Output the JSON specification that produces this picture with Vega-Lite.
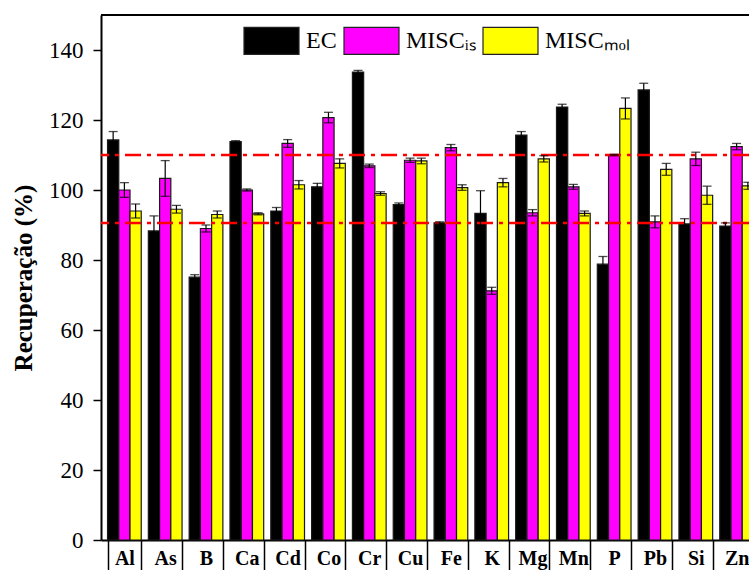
{
  "$schema": "https://vega.github.io/schema/vega-lite/v6.json",
  "width": 648,
  "height": 525,
  "autosize": {"type": "none"},
  "padding": {"left": 101, "top": 15, "right": 0, "bottom": 30},
  "config": {
    "view": {"stroke": null},
    "font": "Liberation Serif",
    "axis": {"labelFont": "Liberation Serif", "titleFont": "Liberation Serif", "labelColor": "black", "titleColor": "black", "domainColor": "black", "tickColor": "black"},
    "legend": {"labelFont": "Liberation Serif"}
  },
  "data": {"values": [
    {"el":"Al","s":"EC","v":114.3,"lo":111.9,"hi":116.7},
    {"el":"Al","s":"MISCᵢₛ","v":100.0,"lo":97.9,"hi":102.1},
    {"el":"Al","s":"MISCₘₒₗ","v":94.0,"lo":92.0,"hi":96.0},
    {"el":"As","s":"EC","v":88.3,"lo":84.0,"hi":92.6},
    {"el":"As","s":"MISCᵢₛ","v":103.3,"lo":98.2,"hi":108.4},
    {"el":"As","s":"MISCₘₒₗ","v":94.5,"lo":93.4,"hi":95.6},
    {"el":"B","s":"EC","v":75.1,"lo":74.4,"hi":75.8},
    {"el":"B","s":"MISCᵢₛ","v":89.0,"lo":88.0,"hi":90.0},
    {"el":"B","s":"MISCₘₒₗ","v":93.0,"lo":92.0,"hi":94.0},
    {"el":"Ca","s":"EC","v":113.8,"lo":113.5,"hi":114.1},
    {"el":"Ca","s":"MISCᵢₛ","v":100.0,"lo":99.7,"hi":100.3},
    {"el":"Ca","s":"MISCₘₒₗ","v":93.2,"lo":92.9,"hi":93.5},
    {"el":"Cd","s":"EC","v":94.0,"lo":93.0,"hi":95.0},
    {"el":"Cd","s":"MISCᵢₛ","v":113.3,"lo":112.2,"hi":114.4},
    {"el":"Cd","s":"MISCₘₒₗ","v":101.5,"lo":100.3,"hi":102.7},
    {"el":"Co","s":"EC","v":100.9,"lo":99.9,"hi":101.9},
    {"el":"Co","s":"MISCᵢₛ","v":120.7,"lo":119.2,"hi":122.2},
    {"el":"Co","s":"MISCₘₒₗ","v":107.6,"lo":106.3,"hi":108.9},
    {"el":"Cr","s":"EC","v":133.7,"lo":133.2,"hi":134.2},
    {"el":"Cr","s":"MISCᵢₛ","v":106.9,"lo":106.4,"hi":107.4},
    {"el":"Cr","s":"MISCₘₒₗ","v":99.0,"lo":98.5,"hi":99.5},
    {"el":"Cu","s":"EC","v":95.8,"lo":95.3,"hi":96.3},
    {"el":"Cu","s":"MISCᵢₛ","v":108.5,"lo":107.9,"hi":109.1},
    {"el":"Cu","s":"MISCₘₒₗ","v":108.3,"lo":107.5,"hi":109.1},
    {"el":"Fe","s":"EC","v":90.6,"lo":90.3,"hi":90.9},
    {"el":"Fe","s":"MISCᵢₛ","v":112.1,"lo":111.2,"hi":113.0},
    {"el":"Fe","s":"MISCₘₒₗ","v":100.7,"lo":99.9,"hi":101.5},
    {"el":"K","s":"EC","v":93.3,"lo":86.8,"hi":99.8},
    {"el":"K","s":"MISCᵢₛ","v":71.2,"lo":70.2,"hi":72.2},
    {"el":"K","s":"MISCₘₒₗ","v":102.1,"lo":100.9,"hi":103.3},
    {"el":"Mg","s":"EC","v":115.7,"lo":114.7,"hi":116.7},
    {"el":"Mg","s":"MISCᵢₛ","v":93.5,"lo":92.6,"hi":94.4},
    {"el":"Mg","s":"MISCₘₒₗ","v":108.9,"lo":108.0,"hi":109.8},
    {"el":"Mn","s":"EC","v":123.7,"lo":122.9,"hi":124.5},
    {"el":"Mn","s":"MISCᵢₛ","v":100.9,"lo":100.2,"hi":101.6},
    {"el":"Mn","s":"MISCₘₒₗ","v":93.3,"lo":92.6,"hi":94.0},
    {"el":"P","s":"EC","v":78.8,"lo":76.6,"hi":81.0},
    {"el":"P","s":"MISCᵢₛ","v":110.0,"lo":109.8,"hi":110.2},
    {"el":"P","s":"MISCₘₒₗ","v":123.3,"lo":120.3,"hi":126.3},
    {"el":"Pb","s":"EC","v":128.6,"lo":126.7,"hi":130.5},
    {"el":"Pb","s":"MISCᵢₛ","v":90.9,"lo":89.2,"hi":92.6},
    {"el":"Pb","s":"MISCₘₒₗ","v":105.9,"lo":104.2,"hi":107.6},
    {"el":"Si","s":"EC","v":90.3,"lo":88.8,"hi":91.8},
    {"el":"Si","s":"MISCᵢₛ","v":108.9,"lo":107.0,"hi":110.8},
    {"el":"Si","s":"MISCₘₒₗ","v":98.5,"lo":95.9,"hi":101.1},
    {"el":"Zn","s":"EC","v":89.7,"lo":88.8,"hi":90.6},
    {"el":"Zn","s":"MISCᵢₛ","v":112.4,"lo":111.5,"hi":113.3},
    {"el":"Zn","s":"MISCₘₒₗ","v":101.2,"lo":100.2,"hi":102.2}
  ]},
  "encoding": {
    "x": {"field": "el", "type": "nominal", "sort": null,
      "scale": {"domain": ["Al","As","B","Ca","Cd","Co","Cr","Cu","Fe","K","Mg","Mn","P","Pb","Si","Zn"], "paddingInner": 0.174, "paddingOuter": 0.16, "range": [0, 659]},
      "axis": {"title": null, "tickBand": "extent", "tickSize": 30, "tickColor": "black", "tickWidth": 1.5, "domainColor": "black", "domainWidth": 2, "labelFont": "Liberation Serif", "labelFontSize": 20, "labelFontWeight": "bold", "labelColor": "black", "labelAngle": 0, "labelPadding": -22}},
    "xOffset": {"field": "s", "type": "nominal", "sort": null,
      "scale": {"domain": ["EC","MISCᵢₛ","MISCₘₒₗ"], "paddingInner": 0, "paddingOuter": 0}}
  },
  "layer": [
    {
      "mark": {"type": "bar", "stroke": "#1a1a1a", "strokeWidth": 1.2},
      "encoding": {
        "y": {"field": "v", "type": "quantitative",
          "scale": {"domain": [0, 150], "nice": false, "zero": true},
          "axis": {"values": [0,10,20,30,40,50,60,70,80,90,100,110,120,130,140],
            "labelExpr": "datum.value % 20 === 0 ? datum.label : ''",
            "tickSize": {"condition": {"test": "datum.value % 20 === 0", "value": 8}, "value": 4},
            "labelOverlap": false, "labelFlush": false, "grid": false,
            "domainColor": "black", "domainWidth": 2, "tickColor": "black", "tickWidth": 1.5,
            "labelFont": "Liberation Serif", "labelFontSize": 23, "labelColor": "black", "labelPadding": 10,
            "title": "Recuperação (%)", "titleFont": "Liberation Serif", "titleFontSize": 25, "titleFontWeight": "bold", "titleColor": "black", "titlePadding": 12}},
        "color": {"field": "s", "type": "nominal",
          "scale": {"domain": ["EC","MISCᵢₛ","MISCₘₒₗ"], "range": ["#000000","#ff00ff","#ffff00"]},
          "legend": {"orient": "none", "legendX": 142, "legendY": -3, "direction": "horizontal", "title": null,
            "symbolType": "M-1,-0.49H1V0.49H-1Z", "symbolSize": 3025, "symbolStrokeColor": "#222", "symbolStrokeWidth": 1.2, "symbolOpacity": 1,
            "labelFont": "Liberation Serif", "labelFontSize": 24, "labelColor": "black", "labelOffset": 6, "columnPadding": 4, "labelLimit": 200}}
      }
    },
    {
      "data": {"values": [{"r": 110}, {"r": 90.6}]},
      "mark": {"type": "rule", "color": "#ff0000", "strokeWidth": 2.5, "strokeDash": [16, 6, 4, 6]},
      "encoding": {"x": null, "xOffset": null, "y": {"field": "r", "type": "quantitative"}}
    },
    {
      "mark": {"type": "rule", "color": "black", "strokeWidth": 1.2},
      "encoding": {"y": {"field": "lo", "type": "quantitative"}, "y2": {"field": "hi"}}
    },
    {
      "mark": {"type": "tick", "color": "black", "orient": "horizontal", "size": 9, "thickness": 1.3},
      "encoding": {"y": {"field": "hi", "type": "quantitative"}}
    },
    {
      "mark": {"type": "tick", "color": "black", "orient": "horizontal", "size": 9, "thickness": 1.3},
      "encoding": {"y": {"field": "lo", "type": "quantitative"}}
    },
    {
      "data": {"values": [{"t": 150}]},
      "mark": {"type": "rule", "color": "black", "strokeWidth": 2},
      "encoding": {"x": null, "xOffset": null, "y": {"field": "t", "type": "quantitative"}}
    }
  ]
}
